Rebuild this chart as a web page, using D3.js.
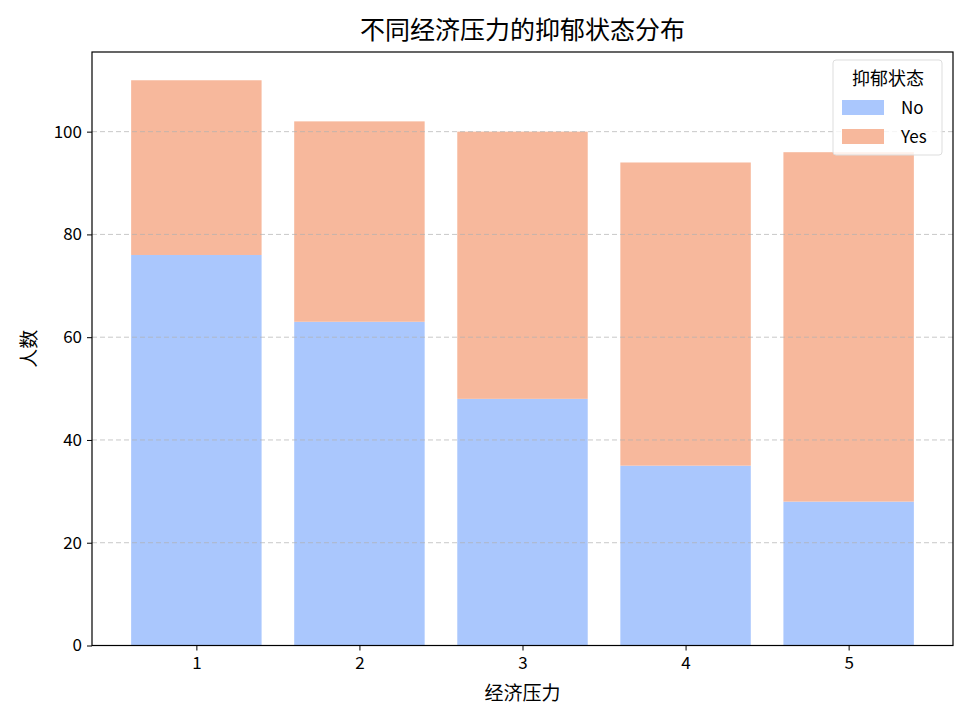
<!DOCTYPE html>
<html><head><meta charset="utf-8">
<script src="https://cdn.jsdelivr.net/npm/d3@7"></script>
<style>body{margin:0;background:#fff;} text{font-family:"Noto Sans CJK SC","DejaVu Sans",sans-serif;}</style>
</head><body>
<svg id="c" width="968" height="722"></svg>
<script>
const categories = ["1","2","3","4","5"];
const noValues = [76, 63, 48, 35, 28];
const yesValues = [34, 39, 52, 59, 68];
const seriesNames = ["No","Yes"];
const seriesColors = ["#aac7fd","#f7b89c"];
const yTicks = [0,20,40,60,80,100];

const svg = d3.select("#c");
const m = {l:92, r:953, t:52, b:645.5};
const x = d3.scaleLinear().domain([-0.64, 4.64]).range([m.l, m.r]);
const y = d3.scaleLinear().domain([0, 115.5]).range([m.b, m.t]);
const bw = x(0.8) - x(0);

const rows = categories.map((c,i)=>({c, i, No:noValues[i], Yes:yesValues[i]}));
const stack = d3.stack().keys(seriesNames)(rows);

stack.forEach((s,k)=>{
  svg.append("g").selectAll("rect").data(s).join("rect")
    .attr("x", d=>x(d.data.i)-bw/2)
    .attr("width", bw)
    .attr("y", d=>y(d[1]))
    .attr("height", d=>y(d[0])-y(d[1]))
    .attr("fill", seriesColors[k]);
});

// grid
svg.append("g").selectAll("line").data(yTicks.filter(t=>t>0)).join("line")
  .attr("x1", m.l).attr("x2", m.r)
  .attr("y1", d=>y(d)).attr("y2", d=>y(d))
  .attr("stroke", "#b0b0b0").attr("stroke-opacity",0.7)
  .attr("stroke-dasharray","5,3").attr("stroke-width",1);

// frame
svg.append("rect").attr("x",m.l).attr("y",m.t).attr("width",m.r-m.l).attr("height",m.b-m.t)
  .attr("fill","none").attr("stroke","#000").attr("stroke-width",1.2);

// axes
const yAxis = svg.append("g").attr("transform",`translate(${m.l},0)`)
  .call(d3.axisLeft(y).tickValues(yTicks).tickSize(5).tickPadding(5));
const xAxis = svg.append("g").attr("transform",`translate(0,${m.b})`)
  .call(d3.axisBottom(x).tickValues(d3.range(categories.length)).tickFormat(i=>categories[i]).tickSize(5).tickPadding(6));
[yAxis,xAxis].forEach(a=>{
  a.select(".domain").remove();
  a.selectAll("text").attr("font-size",17).attr("fill","#000").style("font-family","'Noto Sans CJK SC',sans-serif");
  a.selectAll("line").attr("stroke","#000");
});

svg.append("text").attr("x",(m.l+m.r)/2).attr("y",39).attr("text-anchor","middle")
  .attr("font-size",25).attr("fill","#000").text("不同经济压力的抑郁状态分布");
svg.append("text").attr("x",(m.l+m.r)/2).attr("y",700).attr("text-anchor","middle")
  .attr("font-size",19).attr("fill","#000").text("经济压力");
svg.append("text").attr("transform",`translate(36,${(m.t+m.b)/2}) rotate(-90)`).attr("text-anchor","middle")
  .attr("font-size",19).attr("fill","#000").text("人数");

// legend
const lg = svg.append("g");
lg.append("rect").attr("x",833).attr("y",60).attr("width",109).attr("height",95).attr("rx",3)
  .attr("fill","#fff").attr("fill-opacity",0.8).attr("stroke","#ddd");
lg.append("text").attr("x",888).attr("y",85).attr("text-anchor","middle").attr("font-size",18).attr("fill","#000").text("抑郁状态");
seriesNames.forEach((n,k)=>{
  lg.append("rect").attr("x",842).attr("y",100+k*29).attr("width",42).attr("height",15).attr("fill",seriesColors[k]);
  lg.append("text").attr("x",901).attr("y",114+k*29).attr("font-size",17).attr("fill","#000").text(n);
});
</script>
</body></html>
